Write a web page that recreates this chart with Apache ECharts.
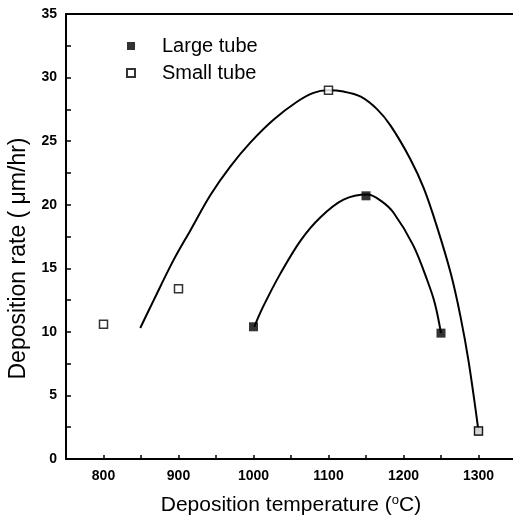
<!DOCTYPE html>
<html>
<head>
<meta charset="utf-8">
<script src="https://cdn.jsdelivr.net/npm/echarts@6/dist/echarts.min.js"></script>
<style>
  html, body { margin: 0; padding: 0; background: #fff; }
  #chart { width: 513px; height: 521px; }
</style>
</head>
<body>
<div id="chart"></div>
<script>
  // measured points
  var largeTube = [[1000, 10.4], [1150, 20.7], [1250, 9.9], [1300, 2.2]]
  var smallTube = [[800, 10.6], [900, 13.4], [1100, 29.0], [1300, 2.2]]
  // fitted curves
  var smallCurve = [
    [849, 10.3], [867, 12.5], [893, 15.6], [916, 18.0], [943, 20.8], [969, 23.0],
    [996, 24.9], [1027, 26.7], [1058, 28.1], [1080, 28.8], [1099, 29.0], [1120, 28.9],
    [1143, 28.5], [1165, 27.5], [1183, 26.2], [1209, 23.6], [1227, 21.3], [1245, 18.2],
    [1263, 14.6], [1276, 11.2], [1287, 7.6], [1300, 2.2]
  ]
  var largeCurve = [
    [1001, 10.4], [1013, 12.0], [1036, 14.6], [1063, 17.2], [1089, 19.0], [1120, 20.4],
    [1152, 20.8], [1170, 20.3], [1187, 19.35], [1213, 16.8], [1232, 14.0], [1242, 12.2],
    [1250, 9.9]
  ]
  var xTicks = [800, 900, 1000, 1100, 1200, 1300]
  var yTicks = [0, 5, 10, 15, 20, 25, 30, 35]

  var chart = echarts.init(document.getElementById('chart'))
  var fnt = '"Liberation Sans", Arial, sans-serif'
  var option = {
    animation: false,
    grid: { left: 66, right: -3, top: 14, bottom: 62, show: false, outerBoundsMode: 'none', containLabel: false },
    legend: {
      orient: 'vertical',
      left: 121,
      top: 31,
      itemWidth: 8,
      itemHeight: 8,
      itemGap: 7,
      data: ['Large tube', 'Small tube'],
      textStyle: { fontFamily: fnt, fontSize: 20, color: '#000', padding: [0, 0, 0, 22] }
    },
    xAxis: [{
      type: 'value',
      min: 750,
      max: 1350,
      interval: 50,
      name: 'Deposition temperature ({sup|o}C)',
      nameLocation: 'middle',
      nameGap: 35,
      nameTextStyle: {
        fontFamily: fnt, fontSize: 21, color: '#000',
        rich: { sup: { fontSize: 13, verticalAlign: 'top', padding: [0, 0, 9, 0], fontFamily: fnt, color: '#000' } }
      },
      axisLine: { lineStyle: { color: '#000', width: 2 } },
      axisTick: { inside: true, length: 4, lineStyle: { color: '#000', width: 1.5 } },
      axisLabel: {
        fontFamily: fnt, fontSize: 14, fontWeight: 'bold', color: '#000', margin: 10,
        formatter: function (v) { return xTicks.indexOf(v) >= 0 ? String(v) : '' }
      },
      splitLine: { show: false }
    }, {
      type: 'value',
      position: 'top',
      min: 750,
      max: 1350,
      axisLine: { lineStyle: { color: '#000', width: 2 } },
      axisTick: { show: false },
      axisLabel: { show: false },
      splitLine: { show: false }
    }],
    yAxis: {
      type: 'value',
      min: 0,
      max: 35,
      interval: 2.5,
      name: 'Deposition rate ( \u03bcm/hr)',
      nameLocation: 'middle',
      nameGap: 30,
      nameTextStyle: { fontFamily: fnt, fontSize: 23, color: '#000', padding: [0, 44, 0, 0] },
      axisLine: { show: true, lineStyle: { color: '#000', width: 2 } },
      axisTick: { show: true, inside: true, length: 5, lineStyle: { color: '#000', width: 1.5 } },
      axisLabel: {
        fontFamily: fnt, fontSize: 14, fontWeight: 'bold', color: '#000', margin: 9,
        formatter: function (v) { return yTicks.indexOf(v) >= 0 ? String(v) : '' }
      },
      splitLine: { show: false }
    },
    series: [{
      name: 'smallCurve',
      type: 'line',
      smooth: 0.35,
      symbol: 'none',
      data: smallCurve,
      lineStyle: { color: '#000', width: 2 }
    }, {
      name: 'largeCurve',
      type: 'line',
      smooth: 0.35,
      symbol: 'none',
      data: largeCurve,
      lineStyle: { color: '#000', width: 2 }
    }, {
      name: 'Large tube',
      type: 'scatter',
      symbol: 'rect',
      symbolSize: 9,
      data: largeTube,
      itemStyle: { color: '#000' },
      z: 5
    }, {
      name: 'Small tube',
      type: 'scatter',
      symbol: 'rect',
      symbolSize: 8,
      data: smallTube,
      itemStyle: { color: '#fff', borderColor: '#000', borderWidth: 1.5 },
      z: 6
    }]
  }
  chart.setOption(option)
</script>
</body>
</html>
